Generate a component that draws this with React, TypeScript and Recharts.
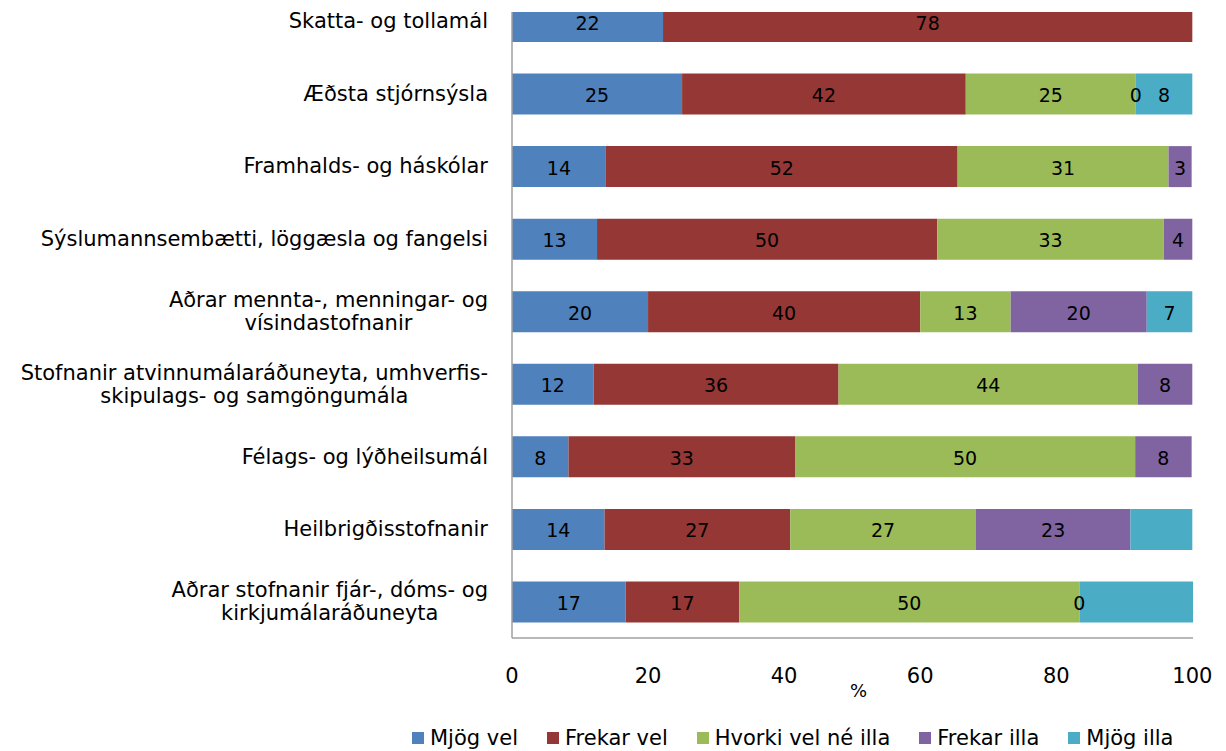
import React from "react";
import { BarChart, Bar, XAxis, YAxis, LabelList, Legend } from "recharts";

const categories = [
  "Skatta- og tollamál",
  "Æðsta stjórnsýsla",
  "Framhalds- og háskólar",
  "Sýslumannsembætti, löggæsla og fangelsi",
  "Aðrar mennta-, menningar- og\nvísindastofnanir",
  "Stofnanir atvinnumálaráðuneyta, umhverfis-\nskipulags- og samgöngumála",
  "Félags- og lýðheilsumál",
  "Heilbrigðisstofnanir",
  "Aðrar stofnanir fjár-, dóms- og\nkirkjumálaráðuneyta",
];

const mjogVel = [22.2, 25, 13.8, 12.5, 20, 12, 8.3, 13.6, 16.7];
const frekarVel = [77.8, 41.7, 51.7, 50, 40, 36, 33.3, 27.3, 16.7];
const hvorki = [null, 25, 31, 33.3, 13.3, 44, 50, 27.3, 50];
const frekarIlla = [null, 0, 3.4, 4.2, 20, 8, 8.3, 22.7, 0];
const mjogIlla = [null, 8.3, null, null, 6.7, null, null, 9.1, 16.7];
// segments whose value label is not printed in the chart
const unlabeledMjogIlla = [7, 8];

const xTicks = [0, 20, 40, 60, 80, 100];

const series = [
  { key: "mv", name: "Mjög vel", color: "#4F81BD", values: mjogVel },
  { key: "fv", name: "Frekar vel", color: "#953735", values: frekarVel },
  { key: "hv", name: "Hvorki vel né illa", color: "#9BBB59", values: hvorki },
  { key: "fi", name: "Frekar illa", color: "#8064A2", values: frekarIlla },
  { key: "mi", name: "Mjög illa", color: "#4BACC6", values: mjogIlla },
];

const data = categories.map((name, i) => {
  const row: any = { name };
  series.forEach((s) => {
    row[s.key] = s.values[i];
    let lbl: any = s.values[i] == null ? null : Math.round(s.values[i] as number);
    if (s.key === "mi" && unlabeledMjogIlla.includes(i)) lbl = null;
    row[s.key + "L"] = lbl;
  });
  return row;
});

const FONT = "'DejaVu Sans', Verdana, sans-serif";

let ctx: any = null;
const measure = (t: string, font: string) => {
  if (!ctx) ctx = document.createElement("canvas").getContext("2d");
  ctx.font = font;
  return ctx.measureText(t).width;
};

const CategoryTick = (props: any) => {
  const { x, y, payload } = props;
  const lines = String(payload.value).split("\n");
  const fs = 21;
  const lh = 23;
  const w = Math.max(...lines.map((l) => measure(l, `${fs}px 'DejaVu Sans'`)));
  const y0 = y - ((lines.length - 1) * lh) / 2;
  return (
    <g>
      {lines.map((l, i) => (
        <text
          key={i}
          x={lines.length > 1 ? x - w / 2 : x}
          y={y0 + i * lh}
          textAnchor={lines.length > 1 ? "middle" : "end"}
          dominantBaseline="central"
          fontFamily={FONT}
          fontSize={fs}
          fill="#000"
        >
          {l}
        </text>
      ))}
    </g>
  );
};

const LabelText = ({ x, y, children }: any) => (
  <text
    x={x}
    y={y}
    textAnchor="middle"
    dominantBaseline="central"
    fontFamily={FONT}
    fontSize={19}
    fill="#000"
  >
    {children}
  </text>
);

const ValueLabel = (props: any) => {
  const { x, y, width, height, value } = props;
  if (value == null || !width) return null;
  return <LabelText x={x + width / 2} y={y + height / 2 + 1}>{value}</LabelText>;
};

// zero-valued "Frekar illa" segments sit on the left edge of the last segment
const ZeroLabel = (props: any) => {
  const { x, y, height, value } = props;
  if (value !== 0) return null;
  return <LabelText x={x} y={y + height / 2 + 1}>{value}</LabelText>;
};

const PercentLabel = (props: any) => {
  const vb = props.viewBox || {};
  return (
    <text
      x={vb.x + vb.width / 2 + 6}
      y={vb.y + 52}
      textAnchor="middle"
      dominantBaseline="central"
      fontFamily={FONT}
      fontSize={18}
      fill="#000"
    >
      %
    </text>
  );
};

const LegendContent = () => (
  <div
    style={{
      display: "flex",
      alignItems: "center",
      height: 24,
      paddingLeft: 412,
      fontFamily: FONT,
      fontSize: 21,
      color: "#000",
      whiteSpace: "nowrap",
    }}
  >
    {series.map((s) => (
      <div key={s.key} style={{ display: "flex", alignItems: "center", marginRight: 29 }}>
        <span style={{ display: "inline-block", width: 12, height: 12, background: s.color, marginRight: 6 }} />
        <span>{s.name}</span>
      </div>
    ))}
  </div>
);

export default function App() {
  return (
    <div
      style={{
        position: "absolute",
        left: 0,
        top: 0,
        width: 1226,
        height: 751,
        overflow: "hidden",
        background: "#fff",
      }}
    >
      <div style={{ position: "absolute", left: 0, top: -15 }}>
        <BarChart
          width={1226}
          height={800}
          data={data}
          layout="vertical"
          margin={{ top: 0, right: 33, bottom: 87, left: 0 }}
        >
          <XAxis
            type="number"
            domain={[0, 100]}
            ticks={xTicks}
            height={60}
            axisLine={{ stroke: "#a0a0a0", strokeWidth: 1.5 }}
            tickLine={false}
            tickSize={6}
            tickMargin={24}
            tick={{ fontFamily: FONT, fontSize: 21, fill: "#000" }}
            label={<PercentLabel />}
          />
          <YAxis
            type="category"
            dataKey="name"
            width={512}
            axisLine={{ stroke: "#a0a0a0", strokeWidth: 1.5 }}
            tickLine={false}
            tickSize={0}
            tickMargin={24}
            interval={0}
            tick={<CategoryTick />}
          />
          {series.map((s) => (
            <Bar
              key={s.key}
              dataKey={s.key}
              name={s.name}
              stackId="a"
              fill={s.color}
              barSize={41}
              isAnimationActive={false}
            >
              <LabelList dataKey={s.key + "L"} content={<ValueLabel />} />
              {s.key === "mi" ? <LabelList dataKey="fiL" content={<ZeroLabel />} /> : null}
            </Bar>
          ))}
          <Legend
            verticalAlign="middle"
            align="center"
            layout="horizontal"
            wrapperStyle={{ top: 741, left: 0, width: 1226, height: 24 }}
            content={<LegendContent />}
          />
        </BarChart>
      </div>
      <div
        style={{ position: "absolute", left: 0, top: 0, width: 1226, height: 12, background: "#fff" }}
      />
    </div>
  );
}
